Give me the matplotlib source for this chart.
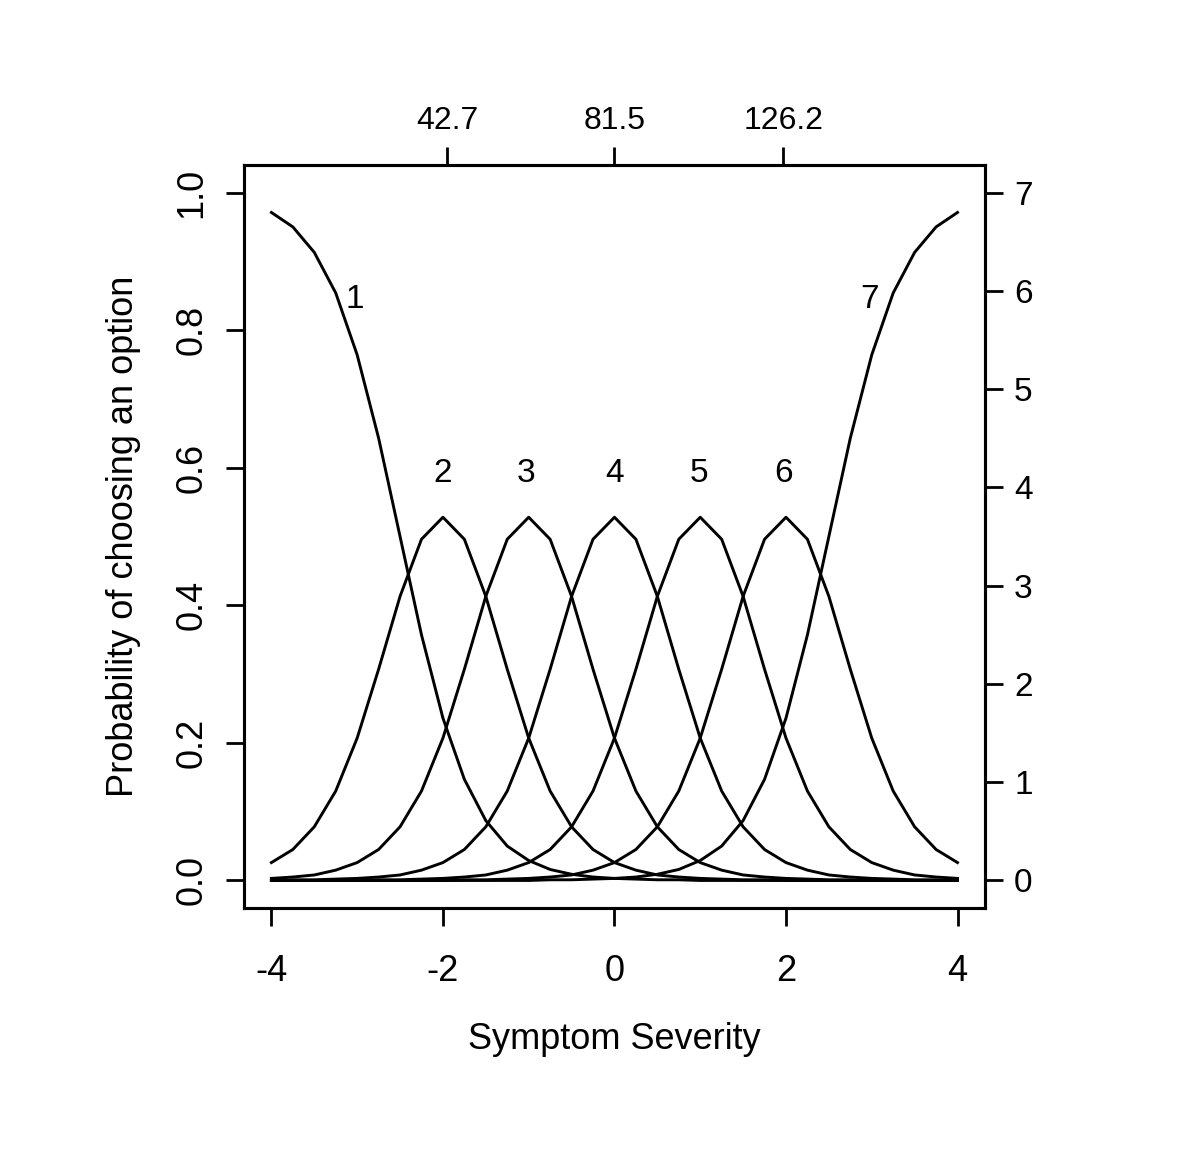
"""
category response curves for a 7 option item, plotted against symptom severity
"""

import matplotlib
matplotlib.use('Agg')
import matplotlib.pyplot as plt
import numpy as np

#severity grid, steps of 0.25 from -4 to 4
theta = np.arange(-4, 4.001, 0.25)

#probability of each option
cat1 = [.971, .950, .913, .854, .764, .643, .500, .357, .236, .147, .087, .050, .029, .016, .009, .005, .003,
        .002, .001, .001, .000, .000, .000, .000, .000, .000, .000, .000, .000, .000, .000, .000, .000]
cat2 = [.026, .045, .078, .130, .207, .307, .413, .496, .528, .496, .413, .307, .207, .130, .078, .045, .026,
        .015, .008, .005, .003, .002, .001, .001, .000, .000, .000, .000, .000, .000, .000, .000, .000]
cat3 = [.003, .005, .008, .015, .026, .045, .078, .130, .207, .307, .413, .496, .528, .496, .413, .307, .207,
        .130, .078, .045, .026, .015, .008, .005, .003, .002, .001, .001, .000, .000, .000, .000, .000]
cat4 = [.000, .001, .001, .002, .003, .005, .008, .015, .026, .045, .078, .130, .207, .307, .413, .496, .528,
        .496, .413, .307, .207, .130, .078, .045, .026, .015, .008, .005, .003, .002, .001, .001, .000]
cat5 = [.000, .000, .000, .000, .000, .001, .001, .002, .003, .005, .008, .015, .026, .045, .078, .130, .207,
        .307, .413, .496, .528, .496, .413, .307, .207, .130, .078, .045, .026, .015, .008, .005, .003]
cat6 = [.000, .000, .000, .000, .000, .000, .000, .000, .000, .001, .001, .002, .003, .005, .008, .015, .026,
        .045, .078, .130, .207, .307, .413, .496, .528, .496, .413, .307, .207, .130, .078, .045, .026]
cat7 = [.000, .000, .000, .000, .000, .000, .000, .000, .000, .000, .000, .000, .000, .001, .001, .002, .003,
        .005, .009, .016, .029, .050, .087, .147, .236, .357, .500, .643, .764, .854, .913, .950, .971]
categories = [cat1, cat2, cat3, cat4, cat5, cat6, cat7]

#curve labels
label_text = ['1', '2', '3', '4', '5', '6', '7']
label_x = [-3.03, -2.0, -1.03, 0.0, 0.98, 1.97, 2.97]
label_y = [0.845, 0.592, 0.592, 0.592, 0.592, 0.592, 0.845]

#top axis (raw score) ticks
top_tick_pos = [-1.95, 0.0, 1.97]
top_tick_labels = ['42.7', '81.5', '126.2']

plt.rcParams['font.family'] = ['Liberation Sans', 'DejaVu Sans']

fig = plt.figure(figsize=(12, 11.53), dpi=100)
ax = fig.add_axes([0.2033, 0.2125, 0.6175, 0.6444])

for cat in categories:
    ax.plot(theta, cat, color='black', linewidth=2.1)
for txt, x, y in zip(label_text, label_x, label_y):
    ax.text(x, y, txt, ha='center', va='center', fontsize=24)

ax.set_xlim(-4.32, 4.32)
ax.set_ylim(-0.04, 1.04)
ax.set_xticks([-4, -2, 0, 2, 4])
ax.set_xticklabels(['-4', '-2', '0', '2', '4'])
ax.set_yticks([0, 0.2, 0.4, 0.6, 0.8, 1.0])
ax.set_yticklabels(['0.0', '0.2', '0.4', '0.6', '0.8', '1.0'], rotation=90, va='center')
ax.tick_params(axis='both', length=13, width=2, labelsize=26, direction='out')
ax.tick_params(axis='x', pad=20)
ax.tick_params(axis='y', pad=12)
for sp in ax.spines.values():
    sp.set_linewidth(2.2)

ax.set_xlabel('Symptom Severity', fontsize=26, labelpad=24)
ax.set_ylabel('Probability of choosing an option', fontsize=26, labelpad=24)

#right axis, 0 to 7
ax_r = ax.twinx()
ax_r.set_ylim(-0.28, 7.28)
ax_r.set_yticks(range(8))
ax_r.tick_params(axis='y', length=13, width=2, labelsize=24, pad=8)
for sp in ax_r.spines.values():
    sp.set_linewidth(2.2)

#top axis
ax_t = ax.twiny()
ax_t.set_xlim(ax.get_xlim())
ax_t.set_xticks(top_tick_pos)
ax_t.set_xticklabels(top_tick_labels)
ax_t.tick_params(axis='x', length=13, width=2, labelsize=23, pad=8)

fig.savefig('out.png', dpi=100)
